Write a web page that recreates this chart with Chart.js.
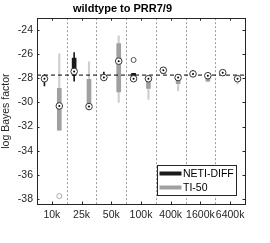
<!DOCTYPE html>
<html lang="en">
<head>
  <meta charset="UTF-8" />
  <title>wildtype to PRR7/9</title>
  <script src="https://cdn.jsdelivr.net/npm/chart.js"></script>
  <style>
    html, body { margin: 0; padding: 0; background: #fff; }
    #wrap { width: 270px; height: 243px; }
  </style>
</head>
<body>
  <div id="wrap"><canvas id="chart"></canvas></div>

  <script>
    const groups = ['10k', '25k', '50k', '100k', '400k', '1600k', '6400k'];

    // NETI-DIFF
    const netiWhisker = [[-28.65, -27.7], [-28.25, -25.9], [-28.0, -27.5], [-28.1, -27.6], [-27.6, -27.15], [-27.8, -27.35], [-27.7, -27.45]];
    const netiBox = [[-28.1, -27.8], [-27.75, -26.35], [-28.0, -27.8], [-27.95, -27.6], [-27.6, -27.3], [-27.75, -27.55], [-27.65, -27.45]];
    const netiMedian = [-28.05, -27.45, -27.95, -28.05, -27.35, -27.65, -27.55];
    const netiOutliers = [[3, -26.5]];

    // TI-50
    const tiWhisker = [[-32.3, -26.0], [-30.4, -26.65], [-30.0, -24.5], [-29.75, -27.95], [-29.05, -27.85], [-28.3, -27.75], [-28.5, -27.9]];
    const tiBox = [[-32.3, -28.85], [-30.4, -28.1], [-29.15, -25.15], [-28.85, -28.1], [-28.45, -28.0], [-28.25, -27.85], [-28.15, -27.95]];
    const tiMedian = [-30.3, -30.35, -26.6, -28.05, -27.95, -27.8, -28.05];
    const tiOutliers = [[0, -37.75]];

    const refLine = -27.75;
    const yTicks = [-24, -26, -28, -30, -32, -34, -36, -38];

    const netiX = i => 2 * i + 0.5;
    const tiX = i => 2 * i + 1.5;

    const FONT = "'Liberation Sans', Arial, sans-serif";

    // frame, inward ticks, group dividers and legend, MATLAB style
    const axesPlugin = {
      id: 'axesPlugin',
      beforeDatasetsDraw(chart) {
        const { ctx, chartArea: a, scales: { x, y } } = chart;
        ctx.save();
        ctx.strokeStyle = '#9a9a9a';
        ctx.lineWidth = 1;
        ctx.setLineDash([2, 2]);
        for (let g = 1; g < groups.length; g++) {
          const px = Math.round(x.getPixelForValue(2 * g)) + 0.5;
          ctx.beginPath();
          ctx.moveTo(px, a.top);
          ctx.lineTo(px, a.bottom);
          ctx.stroke();
        }
        ctx.restore();
      },
      afterDraw(chart) {
        const { ctx, chartArea: a, scales: { x, y } } = chart;
        ctx.save();
        ctx.strokeStyle = '#262626';
        ctx.lineWidth = 1;
        ctx.strokeRect(Math.round(a.left) + 0.5, Math.round(a.top) + 0.5,
          Math.round(a.right - a.left), Math.round(a.bottom - a.top));
        ctx.beginPath();
        yTicks.forEach(v => {
          const py = Math.round(y.getPixelForValue(v)) + 0.5;
          ctx.moveTo(a.left, py); ctx.lineTo(a.left + 2.5, py);
          ctx.moveTo(a.right, py); ctx.lineTo(a.right - 2.5, py);
        });
        groups.forEach((g, i) => {
          const px = Math.round(x.getPixelForValue(2 * i + 1)) + 0.5;
          ctx.moveTo(px, a.bottom); ctx.lineTo(px, a.bottom - 2.5);
          ctx.moveTo(px, a.top); ctx.lineTo(px, a.top + 2.5);
        });
        ctx.stroke();

        // legend box
        const lx = 157.5, ly = 165.5, lw = 79, lh = 30;
        ctx.fillStyle = '#fff';
        ctx.fillRect(lx, ly, lw, lh);
        ctx.strokeStyle = '#262626';
        ctx.strokeRect(lx, ly, lw, lh);
        const items = [['NETI-DIFF', '#1a1a1a'], ['TI-50', '#a0a0a0']];
        ctx.font = '10.5px ' + FONT;
        ctx.textBaseline = 'middle';
        items.forEach(([label, col], k) => {
          const cy = ly + 8 + k * 14;
          ctx.strokeStyle = col;
          ctx.lineWidth = 4;
          ctx.beginPath();
          ctx.moveTo(lx + 2, cy); ctx.lineTo(lx + 24, cy);
          ctx.stroke();
          ctx.fillStyle = '#000';
          ctx.fillText(label, lx + 25.5, cy + 0.5);
        });
        ctx.restore();
      }
    };

    const bars = (arr, pos) => arr.map((r, i) => ({ x: pos(i), y: r }));

    new Chart(document.getElementById('chart'), {
      type: 'bar',
      data: {
        datasets: [
          {
            label: 'NETI-DIFF whisker',
            data: bars(netiWhisker, netiX),
            backgroundColor: '#1a1a1a',
            barThickness: 1,
            order: 5
          },
          {
            label: 'TI-50 whisker',
            data: bars(tiWhisker, tiX),
            backgroundColor: '#cfcfcf',
            barThickness: 1.5,
            order: 5
          },
          {
            label: 'NETI-DIFF',
            data: bars(netiBox, netiX),
            backgroundColor: '#1a1a1a',
            barThickness: 4,
            order: 4
          },
          {
            label: 'TI-50',
            data: bars(tiBox, tiX),
            backgroundColor: '#a0a0a0',
            barThickness: 4,
            order: 4
          },
          {
            type: 'line',
            label: 'reference',
            data: [{ x: 0, y: refLine }, { x: 14, y: refLine }],
            borderColor: '#000',
            borderWidth: 1,
            borderDash: [4, 3],
            pointRadius: 0,
            order: 3
          },
          {
            type: 'scatter',
            label: 'outliers NETI',
            data: netiOutliers.map(([g, v]) => ({ x: netiX(g), y: v })),
            pointRadius: 2.5,
            borderWidth: 1,
            borderColor: '#555',
            backgroundColor: 'rgba(0,0,0,0)',
            order: 2
          },
          {
            type: 'scatter',
            label: 'outliers TI',
            data: tiOutliers.map(([g, v]) => ({ x: tiX(g), y: v })),
            pointRadius: 2.5,
            borderWidth: 1,
            borderColor: '#aaa',
            backgroundColor: 'rgba(0,0,0,0)',
            order: 2
          },
          {
            type: 'scatter',
            label: 'median ring',
            data: netiMedian.map((v, i) => ({ x: netiX(i), y: v }))
              .concat(tiMedian.map((v, i) => ({ x: tiX(i), y: v }))),
            pointRadius: 3.3,
            borderWidth: 1,
            borderColor: '#333',
            backgroundColor: '#fff',
            order: 1
          },
          {
            type: 'scatter',
            label: 'median dot',
            data: netiMedian.map((v, i) => ({ x: netiX(i), y: v }))
              .concat(tiMedian.map((v, i) => ({ x: tiX(i), y: v }))),
            pointRadius: 1,
            borderWidth: 0,
            backgroundColor: '#000',
            order: 0
          }
        ]
      },
      options: {
        responsive: true,
        maintainAspectRatio: false,
        animation: false,
        datasets: { bar: { grouped: false } },
        layout: { padding: { left: 0, right: 25, top: 0, bottom: 18 } },
        plugins: {
          legend: { display: false },
          tooltip: { enabled: false },
          title: {
            display: true,
            text: 'wildtype to PRR7/9',
            color: '#000',
            font: { family: FONT, size: 11, weight: 'bold' },
            padding: { top: 2, bottom: 3 }
          }
        },
        scales: {
          x: {
            type: 'linear',
            min: 0,
            max: 14,
            offset: false,
            grid: { display: false, drawTicks: false },
            border: { display: false },
            afterBuildTicks: s => { s.ticks = groups.map((g, i) => ({ value: 2 * i + 1 })); },
            afterFit: s => { s.height = 21; },
            ticks: {
              autoSkip: false,
              maxRotation: 0,
              padding: 5,
              color: '#262626',
              font: { family: FONT, size: 10.5 },
              callback: v => groups[(v - 1) / 2]
            }
          },
          y: {
            min: -38.4,
            max: -23.05,
            grid: { display: false, drawTicks: false },
            border: { display: false },
            afterBuildTicks: s => { s.ticks = yTicks.map(v => ({ value: v })); },
            afterFit: s => { s.width = 37; },
            title: {
              display: true,
              text: 'log Bayes factor',
              color: '#262626',
              font: { family: FONT, size: 10.5 },
              padding: 0
            },
            ticks: {
              padding: 4,
              color: '#262626',
              font: { family: FONT, size: 10.5 }
            }
          }
        }
      },
      plugins: [axesPlugin]
    });
  </script>
</body>
</html>
